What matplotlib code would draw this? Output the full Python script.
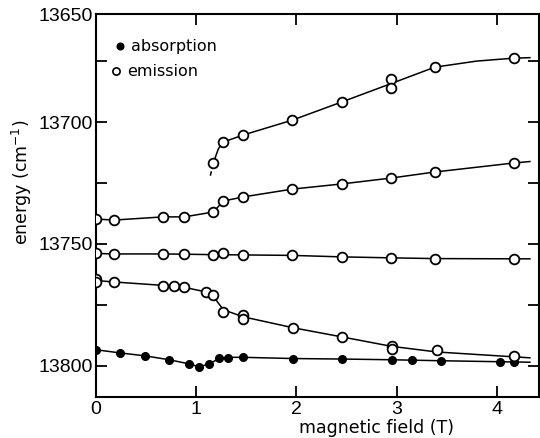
import numpy as np
import matplotlib
matplotlib.use("Agg")
import matplotlib.pyplot as plt

plt.rcParams['font.family'] = ['Liberation Sans', 'DejaVu Sans']

# absorption (filled circles)
abs_field = [0.0, 0.24, 0.49, 0.73, 0.93, 1.03, 1.13, 1.23, 1.32, 1.47, 1.97, 2.45, 2.95, 3.15, 3.44, 4.03, 4.17]
abs_energy = [13793.4, 13794.7, 13795.9, 13797.5, 13799.2, 13800.4, 13799.2, 13796.7, 13796.7, 13796.3,
              13797.1, 13797.1, 13797.5, 13797.5, 13797.9, 13798.4, 13798.4]
abs_curve_field = [0.0, 0.24, 0.49, 0.73, 0.93, 1.03, 1.13, 1.23, 1.32, 1.47, 1.97, 2.45, 2.95, 3.44, 4.17, 4.33]
abs_curve_energy = [13793.4, 13794.7, 13795.9, 13797.5, 13799.2, 13800.4, 13799.2, 13796.9, 13796.5, 13796.5,
                    13797.0, 13797.2, 13797.5, 13797.9, 13798.4, 13798.5]

# emission branches (open circles)
em_a_field = [1.17, 1.27, 1.47, 1.96, 2.45, 2.94, 2.94, 3.38, 4.17]
em_a_energy = [13716.8, 13708.2, 13705.3, 13699.2, 13691.8, 13682.4, 13686.1, 13677.5, 13673.8]
em_a_curve_field = [1.14, 1.17, 1.22, 1.27, 1.47, 1.96, 2.45, 2.94, 3.38, 3.8, 4.17, 4.33]
em_a_curve_energy = [13722.0, 13716.8, 13711.0, 13708.2, 13705.3, 13699.2, 13691.8, 13684.3, 13677.5,
                     13675.0, 13673.8, 13673.6]

em_b_field = [0.0, 0.18, 0.67, 0.88, 1.17, 1.27, 1.47, 1.96, 2.45, 2.94, 3.38, 4.17]
em_b_energy = [13739.8, 13740.2, 13738.9, 13738.9, 13736.9, 13732.4, 13730.7, 13727.5, 13725.4,
               13723.0, 13720.5, 13716.8]
em_b_curve_field = em_b_field + [4.33]
em_b_curve_energy = em_b_energy + [13716.2]

em_c_field = [0.0, 0.18, 0.67, 0.88, 1.17, 1.27, 1.47, 1.96, 2.45, 2.94, 3.38, 4.17]
em_c_energy = [13753.7, 13754.1, 13754.1, 13754.1, 13754.5, 13753.7, 13754.5, 13754.5, 13755.3,
               13755.7, 13756.1, 13756.1]
em_c_curve_field = [0.0, 0.18, 0.67, 0.88, 1.17, 1.47, 1.96, 2.45, 2.94, 3.38, 4.17, 4.33]
em_c_curve_energy = [13753.9, 13754.1, 13754.1, 13754.2, 13754.4, 13754.5, 13754.7, 13755.3, 13755.7,
                     13756.0, 13756.1, 13756.1]

em_d_field = [0.0, 0.0, 0.18, 0.67, 0.78, 0.88, 1.10, 1.17, 1.27, 1.47, 1.47, 1.97, 2.45, 2.95, 2.95, 3.40, 4.17]
em_d_energy = [13764.3, 13765.5, 13765.6, 13767.2, 13767.2, 13767.6, 13769.7, 13770.9, 13777.9, 13779.1,
               13780.7, 13784.4, 13788.1, 13791.8, 13793.0, 13793.4, 13795.9]
em_d_curve_field = [0.0, 0.18, 0.67, 0.88, 1.10, 1.17, 1.27, 1.47, 1.97, 2.45, 2.95, 3.40, 4.17, 4.33]
em_d_curve_energy = [13765.0, 13765.6, 13767.0, 13767.8, 13769.7, 13771.5, 13777.0, 13779.9, 13784.4,
                     13788.1, 13792.0, 13794.3, 13796.3, 13796.7]

fig = plt.figure(figsize=(5.4, 4.38), dpi=100)
ax = fig.add_axes([0.178, 0.094, 0.820, 0.874])

lw = 1.1
ax.plot(abs_curve_field, abs_curve_energy, color='black', lw=lw, zorder=2)
ax.plot(em_a_curve_field[:2], em_a_curve_energy[:2], color='black', lw=lw, ls=(0, (3, 2)), zorder=2)
ax.plot(em_a_curve_field[1:], em_a_curve_energy[1:], color='black', lw=lw, zorder=2)
ax.plot(em_b_curve_field, em_b_curve_energy, color='black', lw=lw, zorder=2)
ax.plot(em_c_curve_field, em_c_curve_energy, color='black', lw=lw, zorder=2)
ax.plot(em_d_curve_field, em_d_curve_energy, color='black', lw=lw, zorder=2)

ax.plot(abs_field, abs_energy, ls='none', marker='o', ms=5.5, mfc='black', mec='black', zorder=3)
for fx, fy in [(em_a_field, em_a_energy), (em_b_field, em_b_energy),
               (em_c_field, em_c_energy), (em_d_field, em_d_energy)]:
    ax.plot(fx, fy, ls='none', marker='o', ms=7, mfc='white', mec='black', mew=1.3, zorder=3)

# legend
ax.plot([0.24], [13668.9], ls='none', marker='o', ms=4.8, mfc='black', mec='black')
ax.plot([0.20], [13679.1], ls='none', marker='o', ms=5.2, mfc='white', mec='black', mew=1.2)
ax.text(0.35, 13668.9, 'absorption', fontsize=11.5, va='center', ha='left', family='DejaVu Sans')
ax.text(0.31, 13679.1, 'emission', fontsize=11.5, va='center', ha='left', family='DejaVu Sans')

ax.set_xlim(0, 4.42)
ax.set_ylim(13812.7, 13655.7)
ax.set_xticks([0, 1, 2, 3, 4])
ax.set_yticks([13655.7, 13700, 13750, 13800], labels=['13650', '13700', '13750', '13800'])
ax.set_yticks([13675, 13725, 13775], minor=True)
ax.tick_params(which='both', direction='in', length=8, width=1.3, top=True, right=True,
               labelsize=14, pad=3)
ax.tick_params(axis='y', which='major', pad=2)
for s in ax.spines.values():
    s.set_linewidth(1.5)

ax.set_xlabel('magnetic field (T)', fontsize=12.5, family='DejaVu Sans')
ax.xaxis.set_label_coords(0.634, -0.058)
ax.set_ylabel('energy (cm$^{-1}$)', fontsize=12.5, family='DejaVu Sans')
ax.yaxis.set_label_coords(-0.14, 0.561)

fig.savefig('out.png', dpi=100)
